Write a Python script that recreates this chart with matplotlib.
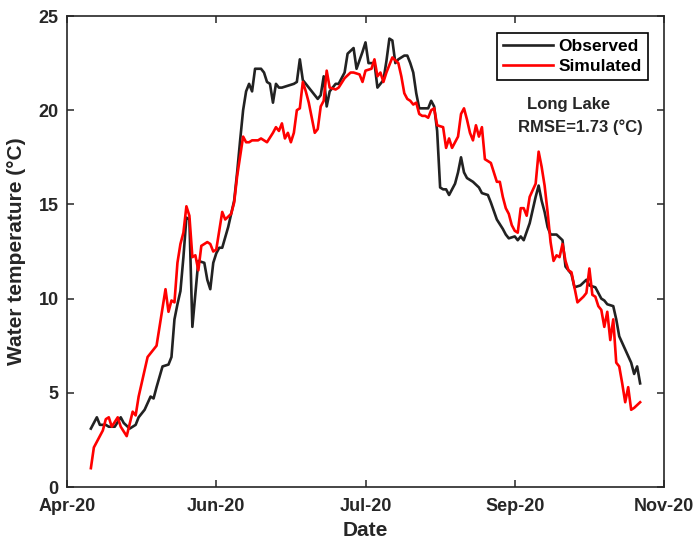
import numpy as np
import matplotlib
matplotlib.use("Agg")
import matplotlib.pyplot as plt
import matplotlib.dates as mdates

plt.rcParams['font.family'] = ['Liberation Sans', 'DejaVu Sans']
plt.rcParams['font.weight'] = 'bold'
plt.rcParams['axes.labelweight'] = 'bold'

# day offsets from 19 Apr 2020 and water temperatures (deg C)
start = np.datetime64('2020-04-19')

obs_day = [8, 10, 11, 13, 14, 16, 18, 19, 21, 23, 24, 26, 28, 29, 30, 32, 34, 35, 36, 37,
           38, 39, 40, 41, 42, 44, 46, 47, 48, 49, 50, 51, 52, 54, 55, 56, 57, 58, 59, 60,
           61, 62, 63, 65, 66, 67, 68, 69, 70, 71, 72, 74, 76, 77, 78, 79, 80, 82, 84, 85,
           86, 87, 88, 90, 91, 93, 94, 96, 97, 99, 100, 101, 103, 104, 106, 107, 108, 109, 110, 111,
           113, 114, 115, 116, 117, 118, 120, 121, 122, 123, 124, 125, 126, 127, 128, 130, 131, 132, 133, 134,
           136, 138, 139, 141, 142, 144, 146, 147, 148, 150, 151, 152, 153, 155, 157, 158, 159, 160, 161, 162,
           164, 166, 167, 169, 170, 172, 174, 175, 177, 179, 180, 181, 183, 184, 185, 187, 189, 190, 191, 192]
obs_temp = [3.1, 3.7, 3.3, 3.3, 3.2, 3.2, 3.7, 3.4, 3.1, 3.3, 3.7, 4.1, 4.8, 4.7, 5.3, 6.4, 6.5, 6.9, 8.9, 9.7,
            10.4, 12.2, 14.3, 14.2, 8.5, 12.0, 11.9, 11.0, 10.5, 11.9, 12.4, 12.7, 12.7, 13.8, 14.5, 15.2, 16.7, 18.4, 20.0, 21.0,
            21.4, 21.0, 22.2, 22.2, 22.0, 21.5, 21.4, 20.4, 21.4, 21.2, 21.2, 21.3, 21.4, 21.5, 22.7, 21.6, 21.4, 21.0, 20.6, 20.8,
            21.8, 20.2, 21.0, 21.4, 21.4, 22.0, 23.0, 23.3, 22.2, 23.1, 23.6, 22.5, 22.5, 21.2, 21.6, 22.6, 23.8, 23.7, 22.5, 22.7,
            22.9, 22.9, 22.5, 22.0, 20.9, 20.1, 20.1, 20.1, 20.5, 20.2, 18.9, 15.9, 15.8, 15.8, 15.5, 16.1, 16.7, 17.5, 16.7, 16.4,
            16.2, 15.9, 15.6, 15.5, 15.1, 14.2, 13.7, 13.4, 13.2, 13.3, 13.1, 13.3, 13.1, 14.0, 15.4, 16.0, 15.2, 14.6, 13.8, 13.4,
            13.4, 13.1, 11.7, 11.3, 10.6, 10.7, 11.0, 10.7, 10.6, 10.0, 9.9, 9.7, 9.6, 8.9, 8.0, 7.3, 6.6, 6.0, 6.4, 5.5]

sim_day = [8, 9, 10, 12, 13, 14, 15, 17, 18, 20, 22, 23, 24, 25, 27, 28, 30, 31, 33, 34,
           35, 36, 37, 38, 39, 40, 41, 42, 43, 44, 45, 47, 48, 49, 50, 52, 53, 55, 56, 57,
           59, 60, 61, 62, 64, 65, 67, 69, 70, 71, 72, 73, 74, 75, 76, 77, 78, 79, 80, 81,
           83, 84, 85, 86, 87, 88, 90, 91, 93, 95, 96, 98, 99, 100, 102, 103, 104, 105, 106, 107,
           109, 111, 112, 113, 114, 115, 116, 117, 118, 119, 120, 121, 122, 123, 124, 126, 127, 128, 129, 131,
           132, 133, 134, 135, 136, 137, 138, 139, 140, 141, 142, 144, 145, 146, 147, 148, 149, 150, 151, 152,
           153, 154, 155, 157, 158, 159, 160, 161, 162, 163, 164, 165, 166, 167, 168, 169, 171, 173, 174, 175,
           176, 177, 178, 179, 180, 181, 182, 183, 184, 185, 186, 187, 188, 189, 190, 192]
sim_temp = [1.0, 2.1, 2.4, 3.0, 3.6, 3.7, 3.2, 3.7, 3.2, 2.7, 4.0, 3.8, 4.8, 5.5, 6.9, 7.1, 7.5, 8.5, 10.5, 9.3,
            9.9, 9.8, 11.9, 12.9, 13.5, 14.9, 14.4, 12.2, 12.3, 11.5, 12.8, 13.0, 12.9, 12.5, 12.6, 14.6, 14.2, 14.5, 15.1, 16.5,
            18.6, 18.3, 18.3, 18.4, 18.4, 18.5, 18.3, 18.8, 19.1, 18.9, 19.3, 18.5, 18.8, 18.3, 18.8, 20.0, 20.1, 21.5, 21.0, 20.4,
            18.8, 19.0, 20.2, 20.5, 22.1, 21.2, 21.1, 21.2, 21.7, 22.0, 22.0, 21.9, 21.5, 22.1, 22.2, 22.7, 21.8, 22.0, 21.5, 22.0,
            22.8, 22.5, 21.8, 20.9, 20.6, 20.5, 20.3, 20.4, 19.8, 19.7, 19.7, 19.6, 20.0, 20.1, 19.2, 19.1, 18.0, 18.5, 18.0, 18.6,
            19.8, 20.1, 19.5, 18.8, 18.4, 19.2, 18.6, 19.1, 17.4, 17.3, 17.2, 16.2, 16.2, 15.4, 14.8, 14.5, 13.9, 13.6, 13.5, 14.8,
            14.8, 14.4, 15.4, 16.1, 17.8, 17.0, 16.0, 14.6, 13.0, 12.0, 12.3, 12.2, 12.9, 12.0, 11.5, 11.4, 9.8, 10.1, 10.3, 11.6,
            10.2, 10.1, 9.6, 9.4, 8.5, 9.3, 7.8, 8.9, 6.6, 6.4, 5.5, 4.5, 5.3, 4.1, 4.2, 4.5]

tick_days = [0, 50, 100, 150, 200]
y_ticks = [0, 5, 10, 15, 20, 25]

ink = '#262626'
obs_dates = start + np.array(obs_day).astype('timedelta64[D]')
sim_dates = start + np.array(sim_day).astype('timedelta64[D]')
tick_dates = start + np.array(tick_days).astype('timedelta64[D]')

fig = plt.figure(figsize=(6.95, 5.41), dpi=100)
ax = fig.add_axes([0.0964, 0.0998, 0.859, 0.8706])

ax.plot(obs_dates, obs_temp, color='#222222', lw=1.9, label='Observed')
ax.plot(sim_dates, sim_temp, color='#ff0000', lw=1.9, label='Simulated')

ax.set_xlim(tick_dates[0], tick_dates[-1])
ax.set_ylim(0, 25)
ax.set_xticks(tick_dates)
ax.xaxis.set_major_formatter(mdates.DateFormatter('%b-%y'))
ax.set_yticks(y_ticks)
ax.tick_params(direction='in', length=5, width=1.1, colors=ink, labelsize=13,
               top=True, right=True)
ax.tick_params(axis='x', pad=8)
ax.tick_params(axis='y', pad=6)
for s in ax.spines.values():
    s.set_color(ink)
    s.set_linewidth(1.2)

ax.set_xlabel('Date', fontsize=15, fontweight='bold', color=ink, labelpad=4)
ax.set_ylabel('Water temperature (°C)', fontsize=15, fontweight='bold', color=ink, labelpad=9)

leg = ax.legend(loc='upper right', prop={'size': 12.5, 'weight': 'bold'}, frameon=True, fancybox=False,
                edgecolor='black', framealpha=1, handlelength=2.9, handletextpad=0.3,
                labelspacing=0.3, borderaxespad=0.95, borderpad=0.35)
leg.get_frame().set_linewidth(1.2)

ax.text(0.8395, 0.812, 'Long Lake', transform=ax.transAxes, ha='center', va='center',
        fontsize=12, fontweight='bold', color=ink)
ax.text(0.8595, 0.763, 'RMSE=1.73 (°C)', transform=ax.transAxes, ha='center', va='center',
        fontsize=12, fontweight='bold', color=ink)

fig.savefig('out.png', dpi=100)
